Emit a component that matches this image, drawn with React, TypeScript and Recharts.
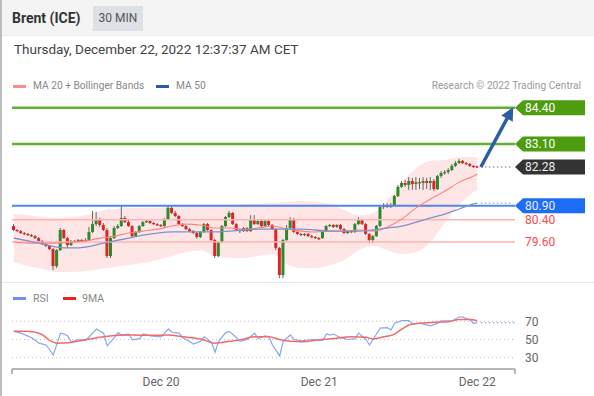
import React from 'react';
import { ComposedChart, LineChart, Bar, Line, Area, XAxis, YAxis, ReferenceLine } from 'recharts';

const FONT = 'Roboto, "Noto Sans", Arial, sans-serif';

// ---- Candles (30 min) ----
const opens = [80.17,80.03,79.99,79.92,79.89,79.85,79.81,79.74,79.64,79.53,
79.46,79.35,78.74,79.31,80.03,79.74,79.49,79.64,79.60,79.67,
79.64,79.67,79.96,80.24,80.39,80.21,80.03,79.10,79.74,80.10,
80.17,80.46,80.31,80.17,79.81,79.96,80.17,80.31,80.35,80.28,
80.24,80.21,80.17,80.42,80.82,80.64,80.53,80.24,80.17,80.06,
79.99,79.92,79.78,79.96,80.24,80.03,79.67,79.10,79.60,80.17,
80.49,80.64,80.24,80.03,79.99,80.10,79.99,80.42,80.24,80.35,
80.17,80.35,80.21,80.06,79.39,78.42,79.67,80.10,80.42,79.96,
79.89,79.85,79.89,79.81,79.78,79.74,79.74,79.99,80.17,80.21,
80.14,80.21,80.06,79.92,79.99,79.96,80.24,80.39,80.24,79.89,
79.67,79.81,80.17,80.85,80.92,80.85,80.92,81.24,81.57,81.71,
81.64,81.78,81.67,81.74,81.71,81.78,81.71,81.78,81.49,81.96,
82.07,82.10,82.17,82.32,82.42,82.50,82.42,82.39,82.32,82.30];

const highs = [80.24,80.06,80.03,79.96,79.92,79.89,79.85,79.78,79.67,79.56,
79.49,79.39,79.35,80.10,80.06,79.78,79.67,79.67,79.71,79.71,
79.74,80.14,80.71,80.67,80.46,80.28,80.10,79.81,80.17,80.24,
80.92,80.53,80.39,80.21,79.99,80.21,80.35,80.39,80.39,80.31,
80.28,80.24,80.46,80.92,80.89,80.71,80.56,80.28,80.21,80.10,
80.03,79.96,79.99,80.28,80.28,80.06,79.71,79.64,80.21,80.53,
80.71,80.67,80.28,80.06,80.14,80.14,80.56,80.56,80.42,80.39,
80.39,80.39,80.24,80.10,79.42,79.71,80.21,80.49,80.46,79.99,
79.92,79.92,79.92,79.85,79.81,79.78,80.03,80.21,80.24,80.24,
80.24,80.24,80.10,80.03,80.03,80.28,80.49,80.42,80.28,79.92,
79.85,80.21,80.92,80.99,80.99,80.99,81.28,81.64,81.78,81.82,
81.92,81.89,81.92,81.89,81.92,81.89,81.92,81.85,82.00,82.14,
82.17,82.24,82.39,82.50,82.57,82.53,82.46,82.42,82.35,82.33];

const lows = [79.99,79.96,79.89,79.85,79.81,79.78,79.71,79.60,79.49,79.42,
79.31,78.60,78.67,79.28,79.71,79.39,79.46,79.56,79.56,79.60,
79.60,79.64,79.92,80.17,80.14,79.99,79.03,79.03,79.71,80.06,
80.14,80.28,80.14,79.74,79.78,79.92,80.14,80.28,80.24,80.21,
80.17,80.14,80.14,80.39,80.60,80.49,80.21,80.14,80.03,79.96,
79.89,79.71,79.74,79.92,79.99,79.64,79.03,79.06,79.56,80.14,
80.46,80.21,79.99,79.92,79.96,79.96,79.96,80.21,80.21,80.14,
80.14,80.17,80.03,79.31,78.31,78.31,79.64,80.06,79.92,79.85,
79.81,79.81,79.78,79.74,79.71,79.67,79.71,79.96,80.14,80.10,
80.10,80.03,79.89,79.89,79.92,79.92,80.21,80.21,79.85,79.56,
79.56,79.78,80.14,80.78,80.82,80.82,80.89,81.21,81.53,81.57,
81.46,81.46,81.46,81.49,81.46,81.49,81.46,81.42,81.46,81.89,
82.00,82.03,82.14,82.28,82.39,82.39,82.35,82.28,82.24,82.25];

const closes = [80.03,79.99,79.92,79.89,79.85,79.81,79.74,79.64,79.53,79.46,
79.35,78.74,79.31,80.03,79.74,79.49,79.64,79.60,79.67,79.64,
79.67,79.96,80.24,80.39,80.21,80.03,79.10,79.74,80.10,80.17,
80.46,80.31,80.17,79.81,79.96,80.17,80.31,80.35,80.28,80.24,
80.21,80.17,80.42,80.82,80.64,80.53,80.24,80.17,80.06,79.99,
79.92,79.78,79.96,80.24,80.03,79.67,79.10,79.60,80.17,80.49,
80.64,80.24,80.03,79.99,80.10,79.99,80.42,80.24,80.35,80.17,
80.35,80.21,80.06,79.39,78.42,79.67,80.10,80.42,79.96,79.89,
79.85,79.89,79.81,79.78,79.74,79.71,79.99,80.17,80.21,80.14,
80.21,80.06,79.92,79.99,79.96,80.24,80.39,80.24,79.89,79.67,
79.81,80.17,80.85,80.92,80.85,80.92,81.24,81.57,81.71,81.64,
81.78,81.67,81.74,81.71,81.78,81.71,81.78,81.49,81.96,82.07,
82.10,82.17,82.32,82.42,82.50,82.42,82.39,82.32,82.28,82.28];

// ---- Indicators (sampled) ----
const bandIdx = [0,4,8,12,16,20,24,28,32,36,40,44,48,52,56,60,64,68,72,76,80,84,88,92,96,100,104,108,112,116,120,124,128,129];
const bbUpper = [80.60,80.56,80.49,80.46,80.49,80.56,80.71,80.78,80.82,80.82,80.82,80.89,80.92,80.89,80.89,80.92,80.96,80.96,80.99,81.03,81.07,81.03,80.96,80.74,80.56,80.64,81.10,81.74,82.24,82.50,82.53,82.64,82.64,82.60];
const bbLower = [78.89,78.74,78.64,78.53,78.53,78.56,78.64,78.71,78.78,78.85,78.96,79.10,79.24,79.31,79.10,79.03,79.03,79.10,79.17,78.81,78.67,78.67,78.78,78.96,79.31,79.46,79.31,79.17,79.24,79.60,80.31,80.92,81.39,81.46];
const ma20 = [79.60,79.56,79.56,79.56,79.60,79.64,79.74,79.81,79.92,79.99,80.06,80.17,80.24,80.21,80.10,80.10,80.06,80.10,80.17,80.06,79.99,79.96,79.99,79.99,80.03,79.99,80.14,80.42,80.82,81.14,81.42,81.74,81.96,82.03];
const ma50 = [79.74,79.64,79.53,79.42,79.39,79.42,79.53,79.64,79.74,79.85,79.92,79.96,79.96,79.96,79.96,79.99,80.03,80.06,80.06,80.06,80.06,80.03,79.99,79.99,79.99,80.03,80.10,80.17,80.31,80.46,80.60,80.78,80.96,80.99];

// ---- RSI panel ----
const rsiIdx = [0,2,5,7,9,11,13,14,15,16,18,20,21,23,25,26,28,29,30,32,33,35,36,38,41,43,44,46,47,48,50,52,53,55,56,57,59,60,62,63,65,67,68,70,71,72,74,75,77,78,80,83,86,87,88,89,91,93,95,96,98,99,100,102,104,105,106,108,110,111,113,116,118,119,122,124,125,127,128,129];
const rsiVal = [59,57,52,46,44,33,57,56,54,47.5,50,49,53,61.5,57,43,52,57.5,55,56,49.7,51,56,54,53,61.6,58,57,52,50,45,48,53,47,36,48,57.6,59,52,48,50,57,51,54,53,44,32,48,55,50,48.5,50,49,56,55,56,52,50,51,57,50,44,50,62.6,63,60.5,68,70.7,70.7,67,68,65,68,70.6,70.6,75,74.5,71.4,67.8,68.5];
const ma9Idx = [0,3,6,8,10,12,15,19,24,29,33,38,43,47,52,56,60,63,67,71,74,77,80,85,89,94,98,100,103,106,108,110,113,117,121,124,127,129];
const ma9Val = [59,59,58,55,49,46,46.5,49,52.5,54.6,55,54.6,55,53,50.6,46,48,49.6,53,53,50,48,47.5,49.7,51,53,52.5,50.6,53,56,61.3,66,67.8,68.9,69.6,72,72,70.6];
const rsiLevels = [70, 50, 30];

// ---- Axis / levels ----
const slotCount = 140;
const dayTickIdx = [41, 85, 129];
const dayTickLabels = ['Dec 20', 'Dec 21', 'Dec 22'];
const resistance = [84.40, 83.10];
const pivot = 80.90;
const supports = [80.40, 79.60];
const target = 84.42;
const lastPrice = closes[closes.length - 1];
const lastIdx = closes.length - 1;

const priceRows = Array.from({ length: slotCount }, (_, i) => {
  const row: any = { i };
  if (i < closes.length) {
    row.o = opens[i]; row.h = highs[i]; row.l = lows[i]; row.c = closes[i];
    row.hl = [lows[i], highs[i]];
  }
  const k = bandIdx.indexOf(i);
  if (k >= 0) {
    row.band = [bbLower[k], bbUpper[k]];
    row.m20 = ma20[k];
    row.m50 = ma50[k];
  }
  return row;
});

const rsiRows = (() => {
  const all = Array.from(new Set([...rsiIdx, ...ma9Idx])).sort((a, b) => a - b);
  return all.map((i) => {
    const row: any = { i };
    const a = rsiIdx.indexOf(i);
    if (a >= 0) row.rsi = rsiVal[a];
    const b = ma9Idx.indexOf(i);
    if (b >= 0) row.ma = ma9Val[b];
    return row;
  });
})();

const Candle = (props: any) => {
  const { x, y, width, height, payload } = props;
  if (!payload || payload.o == null || !isFinite(y) || !isFinite(height)) return null;
  const top = Math.min(y, y + height);
  const bot = Math.max(y, y + height);
  const range = payload.h - payload.l;
  const k = range > 0 ? (bot - top) / range : 0;
  const yo = top + (payload.h - payload.o) * k;
  const yc = top + (payload.h - payload.c) * k;
  const up = payload.c >= payload.o;
  const bt = Math.min(yo, yc);
  const bh = Math.max(Math.abs(yc - yo), 1.2);
  const cx = x + width / 2;
  return (
    <g>
      <line x1={cx} x2={cx} y1={top} y2={bot} stroke="#666" strokeWidth={1} />
      <rect x={x} y={bt} width={width} height={bh} fill={up ? '#2c8a2c' : '#e02424'} />
    </g>
  );
};

const getVB = (p: any) => (p && p.viewBox ? p.viewBox : { x: 0, y: 0, width: 0, height: 0 });

const Tag = ({ vb, text, bg, fg }: any) => {
  const X = vb.x + vb.width;
  const y = vb.y;
  const h = 7.5;
  return (
    <g>
      <path d={`M${X},${y} L${X + 8},${y - h} L${X + 70},${y - h} L${X + 70},${y + h} L${X + 8},${y + h} Z`} fill={bg} />
      <text x={X + 10} y={y} dy={4.3} fill={fg} fontSize={12} fontFamily={FONT}>{text}</text>
    </g>
  );
};

const PlainTag = ({ vb, text, color }: any) => (
  <text x={vb.x + vb.width + 10} y={vb.y} dy={4.3} fill={color} fontSize={12} fontFamily={FONT}>{text}</text>
);

const Arrow = (p: any) => {
  const { x1, y1, x2, y2 } = p;
  if (![x1, y1, x2, y2].every((v) => isFinite(v))) return null;
  const dx = x2 - x1, dy = y2 - y1;
  const len = Math.sqrt(dx * dx + dy * dy) || 1;
  const ux = dx / len, uy = dy / len;
  const head = 13, half = 6.5;
  const bx = x2 - ux * head, by = y2 - uy * head;
  const px = -uy, py = ux;
  return (
    <g>
      <line x1={x1} y1={y1} x2={bx + ux * 2} y2={by + uy * 2} stroke="#2c5da6" strokeWidth={3.5} />
      <path d={`M${x2},${y2} L${bx + px * half},${by + py * half} L${bx - px * half},${by - py * half} Z`} fill="#2c5da6" />
    </g>
  );
};

const RsiTick = (props: any) => {
  const { x, y, payload } = props;
  const v = payload ? payload.value : null;
  const k = dayTickIdx.indexOf(v);
  if (k < 0) {
    return <line x1={x} x2={x} y1={y - 8} y2={y - 3} stroke="#b5b5b5" strokeWidth={2} />;
  }
  return (
    <text x={x} y={y + 9} textAnchor="middle" fill="#666" fontSize={12} fontFamily={FONT}>{dayTickLabels[k]}</text>
  );
};

export default function App() {
  return (
    <div style={{ position: 'absolute', left: 0, top: 0, width: 594, height: 396, background: '#fff', overflow: 'hidden', fontFamily: FONT }}>
      <div style={{ position: 'absolute', left: 0, top: 0, width: 594, height: 35, background: '#f4f4f4', borderBottom: '1px solid #ececec' }} />
      <div style={{ position: 'absolute', left: 0, top: 0, width: 2, height: 396, background: '#bdbdbd' }} />
      <div style={{ position: 'absolute', left: 12, top: 9, fontSize: 14, lineHeight: '18px', fontWeight: 700, color: '#333' }}>Brent (ICE)</div>
      <div style={{ position: 'absolute', left: 93, top: 6, width: 50, height: 25, background: '#dde0e4', color: '#555', fontSize: 12, lineHeight: '25px', textAlign: 'center' }}>30 MIN</div>
      <div style={{ position: 'absolute', left: 14, top: 41, fontSize: 13.5, lineHeight: '16px', color: '#444' }}>Thursday, December 22, 2022 12:37:37 AM CET</div>

      <div style={{ position: 'absolute', left: 13, top: 85, width: 13, height: 3, background: '#ff8a8a' }} />
      <div style={{ position: 'absolute', left: 33, top: 79, fontSize: 10.2, lineHeight: '14px', color: '#888' }}>MA 20 + Bollinger Bands</div>
      <div style={{ position: 'absolute', left: 156, top: 85, width: 13, height: 3, background: '#2a5aa8' }} />
      <div style={{ position: 'absolute', left: 176, top: 79, fontSize: 10.2, lineHeight: '14px', color: '#888' }}>MA 50</div>
      <div style={{ position: 'absolute', right: 13, top: 79, fontSize: 10.2, lineHeight: '14px', color: '#9a9a9a' }}>Research © 2022 Trading Central</div>

      <div style={{ position: 'absolute', left: 2, top: 282, width: 592, height: 1, background: '#e9e9e9' }} />
      <div style={{ position: 'absolute', left: 13, top: 297, width: 13, height: 3, background: '#6f8ff0' }} />
      <div style={{ position: 'absolute', left: 33, top: 292, fontSize: 10.5, lineHeight: '14px', color: '#888' }}>RSI</div>
      <div style={{ position: 'absolute', left: 63, top: 297, width: 13, height: 3, background: '#f02020' }} />
      <div style={{ position: 'absolute', left: 82, top: 292, fontSize: 10.5, lineHeight: '14px', color: '#888' }}>9MA</div>

      <div style={{ position: 'absolute', left: 0, top: 0 }}>
        <ComposedChart width={594} height={300} data={priceRows} margin={{ top: 90.9, right: 79, left: 12, bottom: 13.2 }}>
          <XAxis dataKey="i" type="category" hide />
          <YAxis type="number" domain={[78, 85]} hide allowDataOverflow />
          <Area dataKey="band" type="monotone" connectNulls stroke="none" fill="#ffd6d6" fillOpacity={0.6} isAnimationActive={false} />
          {resistance.map((v) => (
            <ReferenceLine key={v} y={v} stroke="#62b130" strokeWidth={2.5}
              label={(p: any) => <Tag vb={getVB(p)} text={v.toFixed(2)} bg="#4e9c10" fg="#ffffff" />} />
          ))}
          <ReferenceLine y={pivot} stroke="#5186e6" strokeWidth={2}
            label={(p: any) => <Tag vb={getVB(p)} text={pivot.toFixed(2)} bg="#1d6cf5" fg="#e8efff" />} />
          {supports.map((v) => (
            <ReferenceLine key={v} y={v} stroke="#ffb3b3" strokeWidth={1.5}
              label={(p: any) => <PlainTag vb={getVB(p)} text={v.toFixed(2)} color="#ff4a4a" />} />
          ))}
          <Line dataKey="m20" type="monotone" connectNulls stroke="#ff8080" strokeWidth={1.1} dot={false} isAnimationActive={false} />
          <Line dataKey="m50" type="monotone" connectNulls stroke="#7b93cc" strokeWidth={1.3} dot={false} isAnimationActive={false} />
          <Bar dataKey="hl" barSize={3} shape={<Candle />} isAnimationActive={false} />
          <ReferenceLine segment={[{ x: lastIdx + 1, y: ma50[ma50.length - 1] }, { x: slotCount - 1, y: ma50[ma50.length - 1] }]}
            stroke="#8fa6e0" strokeWidth={1.2} strokeDasharray="1.5 2.5" />
          <ReferenceLine segment={[{ x: lastIdx + 1, y: lastPrice }, { x: slotCount - 1, y: lastPrice }]}
            stroke="#777" strokeWidth={1.2} strokeDasharray="1.5 2.5" />
          <ReferenceLine y={lastPrice} stroke="none"
            label={(p: any) => <Tag vb={getVB(p)} text={lastPrice.toFixed(2)} bg="#333333" fg="#eeeeee" />} />
          <ReferenceLine segment={[{ x: lastIdx + 1, y: lastPrice }, { x: slotCount - 1, y: target }]}
            shape={(p: any) => <Arrow {...p} />} />
        </ComposedChart>
      </div>

      <div style={{ position: 'absolute', left: 0, top: 296 }}>
        <LineChart width={594} height={100} data={rsiRows} margin={{ top: 16.2, right: 79, left: 12, bottom: 0 }}>
          <XAxis dataKey="i" type="number" domain={[-0.5, slotCount - 0.5]} allowDataOverflow
            ticks={[-0.5, ...dayTickIdx, slotCount - 0.5]} interval={0} height={26.9}
            axisLine={{ stroke: '#b5b5b5', strokeWidth: 2 }} tickLine={false} tickSize={6} tickMargin={2}
            tick={<RsiTick />} />
          <YAxis type="number" domain={[17.5, 80]} hide allowDataOverflow />
          {rsiLevels.map((v) => (
            <ReferenceLine key={v} y={v} stroke="#bdbdbd" strokeWidth={1} strokeDasharray="1 3"
              label={(p: any) => {
                const vb = getVB(p);
                return <text x={vb.x + vb.width + 10} y={vb.y} dy={4.3} fill="#666" fontSize={12} fontFamily={FONT}>{v}</text>;
              }} />
          ))}
          <ReferenceLine segment={[{ x: lastIdx + 1, y: rsiVal[rsiVal.length - 1] }, { x: slotCount - 0.5, y: rsiVal[rsiVal.length - 1] }]}
            stroke="#8aa4f2" strokeWidth={1.2} strokeDasharray="1.5 2.5" />
          <Line dataKey="rsi" type="linear" connectNulls stroke="#8aa6f3" strokeWidth={1.2} dot={false} isAnimationActive={false} />
          <Line dataKey="ma" type="monotone" connectNulls stroke="#f26a6a" strokeWidth={1.5} dot={false} isAnimationActive={false} />
        </LineChart>
      </div>
    </div>
  );
}
